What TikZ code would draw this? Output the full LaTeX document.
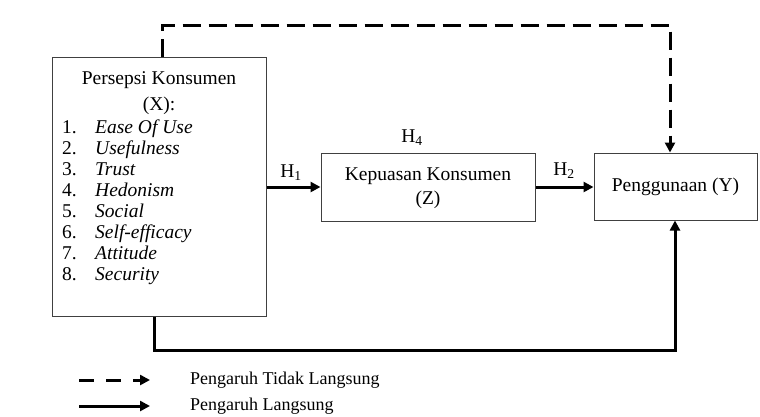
\documentclass[tikz,border=0pt]{standalone}
\usepackage{fontspec}
\setmainfont{Liberation Serif}
\usetikzlibrary{arrows.meta}
\tikzset{
  box/.style={draw=black!75, line width=1pt, inner sep=0pt},
  link/.style={line width=3pt, -{Triangle[length=10pt,width=10pt]}},
  tekst/.style={font=\fontsize{19.5}{21}\selectfont, inner sep=0pt, text height=14pt, text depth=4pt},
  legtekst/.style={font=\fontsize{18}{20}\selectfont, inner sep=0pt, anchor=west},
}
\begin{document}
\begin{tikzpicture}[x=1pt,y=-1pt]
    \useasboundingbox (0,0) rectangle (760,416);
    % boxes
    \node[box, minimum width=214pt, minimum height=259pt] (X) at (159,186.5) {};
    \node[box, minimum width=214pt, minimum height=68pt] (Z) at (428,187) {};
    \node[box, minimum width=163pt, minimum height=67pt, tekst] (Y) at (675.5,186.5) {Penggunaan (Y)};
    % texts in the boxes
    \node[tekst] (Xa) at (159,79) {Persepsi Konsumen};
    \node[tekst] (Xb) at (159,105) {(X):};
    \foreach \t [count=\n] in {Ease Of Use,Usefulness,Trust,Hedonism,Social,Self-efficacy,Attitude,Security}
      {
      \node[tekst, anchor=west] (num\n) at (62,{107+21*\n}) {\n.};
      \node[tekst, anchor=west] (item\n) at (95,{107+21*\n}) {\textit{\t}};
      }
    \node[tekst] (Za) at (428,175) {Kepuasan Konsumen};
    \node[tekst] (Zb) at (428,199) {(Z)};
    % hypotheses
    \node[tekst] (H1) at (291,172) {H\textsubscript{1}};
    \node[tekst] (H2) at (564,170) {H\textsubscript{2}};
    \node[tekst] (H4) at (412,137) {H\textsubscript{4}};
    % connectors
    \draw[link] (X.east |- Z.west) -- (Z.west);
    \draw[link] (Z.east) -- (Y.west |- Z.east);
    \coordinate (c1) at (162,25);
    \coordinate (c2) at (670,25);
    \draw[link, dash pattern=on 18pt off 8pt] (c1 |- X.north) -- (c1) -- (c2) -- (c2 |- Y.north);
    \coordinate (d1) at (154,350);
    \coordinate (d2) at (675,350);
    \draw[link] (d1 |- X.south) -- (d1) -- (d2) -- (d2 |- Y.south);
    % legend
    \coordinate (l1) at (79,380);
    \coordinate (l2) at (150,380);
    \coordinate (l3) at (79,406);
    \coordinate (l4) at (150,406);
    \draw[link, dash pattern=on 15pt off 12pt] (l1) -- (l2);
    \draw[link] (l3) -- (l4);
    \node[legtekst] (leg1) at (190,380) {Pengaruh Tidak Langsung};
    \node[legtekst] (leg2) at (190,406) {Pengaruh Langsung};
\end{tikzpicture}
\end{document}
